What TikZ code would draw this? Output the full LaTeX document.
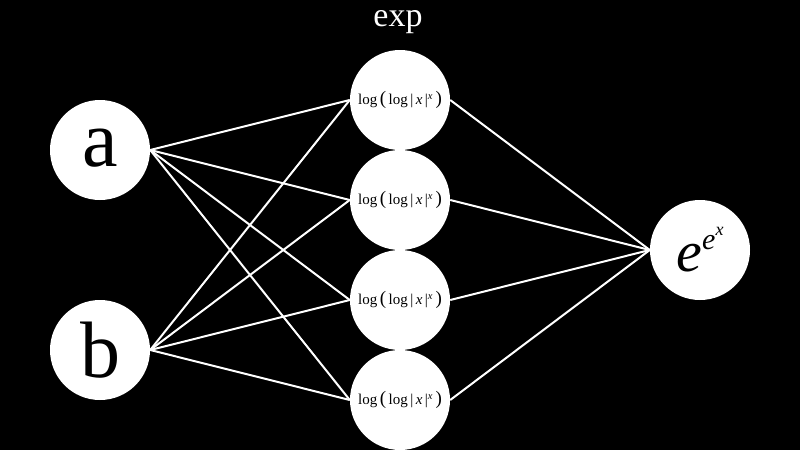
\documentclass[tikz,border=0pt]{standalone}
\usepackage{fontspec}
\setmainfont{Liberation Serif}
\begin{document}
\begin{tikzpicture}[x=1pt,y=-1pt,
  neuron/.style={circle,fill=white,minimum size=100pt,inner sep=0pt,text=black},
  link/.style={draw=white,line width=2pt}]
\fill[black] (0,0) rectangle (800,450);
\useasboundingbox (0,0) rectangle (800,450);
\node[neuron,font=\fontsize{80}{80}\selectfont] (a) at (100,150) {\raisebox{4pt}{a}};
\node[neuron,font=\fontsize{80}{80}\selectfont] (b) at (100,350) {b};
\foreach \i/\y in {1/100,2/200,3/300,4/400}
  \node[neuron,font=\fontsize{15}{15}\selectfont] (m\i) at (400,\y) {log\,{\fontsize{19}{19}\selectfont(}\,log\,|\,\textit{x}\,|\textsuperscript{\textit{x}}\,{\fontsize{19}{19}\selectfont)}};
\node[neuron,font=\fontsize{58}{58}\selectfont] (o) at (700,250) {\raisebox{-6pt}{\textit{e}\raisebox{22pt}{\fontsize{30}{30}\selectfont\textit{e}\raisebox{14pt}{\fontsize{18}{18}\selectfont\textit{x}}}}};
\node[text=white,font=\fontsize{34}{34}\selectfont] (t) at (398,22) {exp};
\foreach \i in {1,...,4}{
  \draw[link] (a.east) -- (m\i.west);
  \draw[link] (b.east) -- (m\i.west);
  \draw[link] (m\i.east) -- (o.west);
}
\end{tikzpicture}
\end{document}
